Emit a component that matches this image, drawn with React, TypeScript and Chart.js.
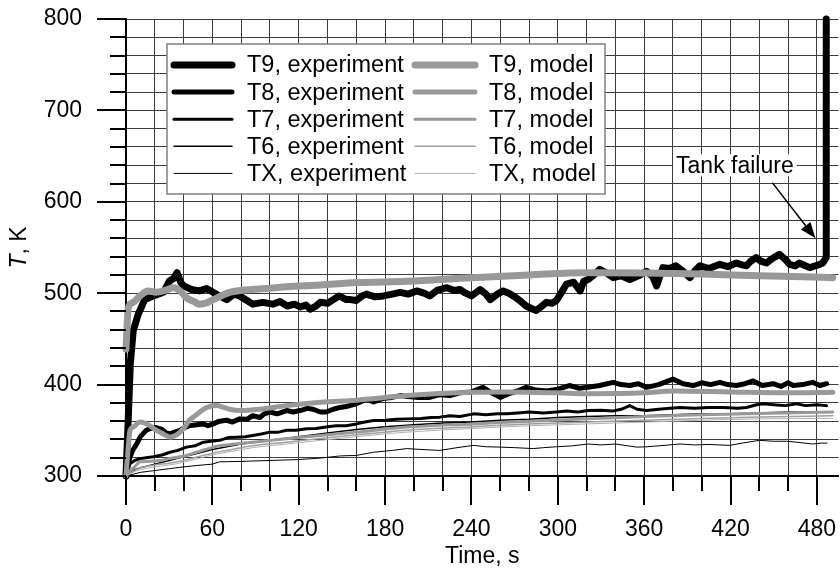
import React, { useEffect, useRef } from 'react';
import { Chart, registerables } from 'chart.js';
Chart.register(...registerables);

const FONT = '"Liberation Sans", Arial, Helvetica, sans-serif';

// ---- axis settings ----
const xMin = 0;
const xMax = 495;
const yMin = 300;
const yMax = 800;
const xMajorStep = 60;
const yMajorStep = 100;
const gridStep = 20;

// ---- labels ----
const expLabels = ['T9, experiment', 'T8, experiment', 'T7, experiment', 'T6, experiment', 'TX, experiment'];
const modelLabels = ['T9, model', 'T8, model', 'T7, model', 'T6, model', 'TX, model'];
const xTitle = 'Time, s';
const annotationText = 'Tank failure';
// annotation anchor values (time, K)
const annTextAt = [423, 640];
const annArrowFrom = [449, 621];
const annArrowTo = [479, 560];

// ---- T9 experiment ----
const t9ExpTime = [0, 1.5, 3, 5, 8.5, 13, 19, 26, 30, 33, 35.5, 38, 40, 45.5, 51, 56, 60.5, 65, 70, 75, 79, 84, 88, 95, 102, 107, 112, 117, 121, 125, 128, 132, 135, 140, 144, 148, 153, 156, 160, 164, 167, 173, 179, 185, 190.5, 196, 202, 207, 211, 216, 223, 228, 232, 236, 240, 246, 250, 253, 258, 262, 266, 271, 275, 278, 282, 285, 289, 292, 296, 299, 303, 306, 311, 315.5, 318, 321, 325, 329, 334, 338.5, 344, 350, 356, 361.7, 366, 368.6, 373, 378, 382, 387, 391.8, 395, 398.7, 405, 412.6, 418, 424, 428, 431, 434, 438, 441, 445, 449, 454, 458, 461, 465, 468, 472, 475, 479, 482, 484, 486.5, 486.5];
const t9ExpTemp = [300, 360, 423, 459, 477, 493, 497, 501, 513, 516, 522.5, 512, 508, 504, 502.5, 505, 501, 497, 493, 499, 497, 492, 488, 490, 488, 491, 486, 488, 485, 487, 482.5, 486, 490, 489, 493, 497, 493, 493, 492, 497, 499, 496, 497, 499, 501, 499, 502.5, 500, 497, 503, 506, 503, 504, 500, 497, 504, 499, 493, 499, 502.5, 500, 495, 490, 486, 483, 481, 486, 490, 489, 492, 502, 510, 512, 502.5, 513, 515, 520, 526, 522, 517, 519, 515, 519, 524, 518, 508, 528, 527, 530, 524, 517, 524, 530, 527, 531.6, 529, 533, 531, 530, 535, 539, 535, 533, 538, 542.5, 537, 531.6, 530, 533, 530, 528, 530, 531.6, 533, 539, 800];

// ---- T8 experiment ----
const t8ExpTime = [0, 1.5, 2.8, 5, 7.4, 10, 14, 17, 21, 25, 28, 30.5, 34, 37.5, 41, 44, 49, 53.7, 57, 60.6, 65, 70, 74, 79, 84, 88, 93, 96, 100, 105, 111.6, 116, 121, 126, 130, 135, 139, 144, 148.6, 153, 160, 167, 172, 179, 185, 190.5, 196, 203, 211, 218, 225, 232, 240, 248, 254, 260, 266, 272, 278, 285, 292, 300, 308, 315, 321, 329, 338.5, 344, 350, 356, 361.7, 370, 380, 387, 394, 400, 406, 412.6, 418, 424, 430, 435.7, 442, 449.6, 455, 460, 463.5, 470, 477, 482, 486.7];
const t8ExpTemp = [300, 312, 321, 329, 335, 343, 350, 352, 353, 351, 347, 346, 348, 350, 353, 355, 356, 357, 355, 357, 360, 361, 359, 362.5, 362, 366, 364, 368, 370, 368, 371.6, 370, 371.6, 374, 373, 370, 370, 373, 375, 376, 379, 384, 381, 385, 386, 388, 387, 386, 386, 389, 388, 391, 392, 397, 391, 386, 390, 393, 397, 394, 393, 395, 399, 396, 397, 399, 402.5, 400, 399, 401, 397, 400, 406, 401, 399, 402, 400, 402.5, 400, 399, 401, 404, 399, 401, 398, 402, 399, 400, 402.5, 399, 401];

// ---- T7 experiment ----
const t7ExpTime = [0, 2.8, 6, 9.7, 14, 19, 25, 30.5, 36, 42, 48, 53.7, 59, 65, 71, 77, 83, 88, 94, 100, 106, 111.6, 118, 125.5, 132, 139, 146, 153, 160, 166, 172, 180, 188, 195, 205, 212, 218, 225, 232, 241.5, 250, 258, 264.6, 272, 280, 290, 299, 306, 314, 321, 330, 338, 344, 350, 355, 361.7, 370, 378, 385, 395, 405, 415, 425, 431, 438, 443, 450, 458, 466, 472, 480, 486.7];
const t7ExpTemp = [300, 313.5, 317, 319, 320, 321, 323, 326, 328, 331.6, 333, 337, 338, 339, 342, 342.5, 343, 344.4, 346, 348, 348, 350, 350, 351.6, 352, 353.5, 355, 355, 357, 359, 360.7, 361, 362, 362.5, 363, 364, 364.4, 366, 365, 368, 367, 368, 368, 369, 370, 369, 370, 371, 370, 371.6, 372, 371, 373, 377, 373, 371.6, 373, 374, 375, 374, 375, 375, 374, 375, 378, 379, 378, 377, 379, 377, 378, 377];

// ---- T6 experiment ----
const t6ExpTime = [0, 5, 10, 20, 30, 40, 50, 60, 70, 80, 90, 100, 120, 140, 160, 180, 200, 220, 240, 260, 280, 300, 320, 340, 360, 380, 400, 420, 440, 460, 486];
const t6ExpTemp = [300, 306, 309, 313, 317, 321, 325, 329, 332, 335, 337, 339, 343, 347, 351, 354, 356, 358, 359, 361, 362, 364, 365, 366, 366, 367, 368, 368, 369, 370, 370];

// ---- TX experiment ----
const txExpTime = [0, 5, 10, 20, 30, 40, 50, 60, 65, 80, 100, 120, 135, 149, 160, 172, 185, 195, 205, 218, 230, 241.5, 250, 260, 270, 283, 290, 299, 310, 321, 330, 340, 354.7, 362, 370, 385, 395, 405, 419.5, 428, 440, 450, 459, 466, 477, 483, 487];
const txExpTemp = [300, 302, 304, 306, 308, 310, 311.6, 313, 315.5, 316, 317, 318, 319.6, 322, 322.5, 326, 328, 330, 329, 328, 331, 333.5, 332, 331.6, 331, 330, 331, 332, 333, 335, 334, 335, 331.6, 332, 333, 335, 334, 334.5, 333.5, 336, 339, 338, 338, 337, 335, 336, 336];

// ---- models ----
const t9ModelTime = [0, 1.6, 5, 9.7, 15.5, 21, 27, 33, 38, 42, 47, 51, 55, 60.6, 66, 72, 80, 88, 100, 111.6, 135, 160, 195, 240, 280, 321, 360, 400, 440, 470, 491];
const t9ModelTemp = [439, 484, 490, 497, 502.5, 501, 503, 506, 502, 495, 491, 488, 489, 493, 497, 501, 503, 504, 505.5, 507, 509, 511.6, 513, 517, 520, 522.5, 522, 521, 519, 518, 517];

const t8ModelTime = [0, 1.5, 2.8, 5, 9.7, 13, 16.7, 20, 23.6, 27, 30.5, 34, 37.5, 41, 44, 49, 53.7, 58, 63, 68, 72, 79, 93, 111.6, 135, 160, 195, 240, 264, 300, 321, 360, 380, 420, 460, 491];
const t8ModelTemp = [300, 330, 350, 353.5, 359, 358, 355, 351, 348, 345, 342.5, 344, 348, 354, 361, 367, 373, 376, 377, 375, 373, 371.6, 373, 377, 380.7, 383, 388, 391.6, 392, 391, 390, 391, 393, 392, 391, 391.6];

const t7ModelTime = [0, 3, 6, 9.7, 15, 23.6, 30, 37.5, 43, 49, 55, 60.6, 70, 88, 111.6, 135, 160, 195, 241.5, 280, 321, 360, 400, 440, 491];
const t7ModelTemp = [300, 306, 310, 315.5, 316, 317, 319, 321, 323, 326, 329, 331.6, 334, 337, 340.7, 344.4, 348, 353.5, 357, 360, 362.5, 365, 367, 368.5, 370];

const t6ModelTime = [0, 5, 10, 20, 30, 40, 50, 60, 70, 88, 111.6, 135, 160, 195, 241.5, 280, 321, 360, 400, 440, 491];
const t6ModelTemp = [300, 305, 309, 312, 314, 317, 321, 325, 328, 333, 337, 341, 345, 350, 354, 357, 359, 361, 363, 364.5, 366];

const txModelTime = [0, 5, 10, 20, 30, 40, 50, 60, 70, 88, 111.6, 135, 160, 195, 241.5, 280, 321, 360, 400, 440, 491];
const txModelTemp = [300, 304, 307, 310, 312, 315, 319, 323, 326, 331, 335, 339, 343, 348, 352, 355, 357, 359, 361, 362.5, 363];

const expTimes = [t9ExpTime, t8ExpTime, t7ExpTime, t6ExpTime, txExpTime];
const expTemps = [t9ExpTemp, t8ExpTemp, t7ExpTemp, t6ExpTemp, txExpTemp];
const modelTimes = [t9ModelTime, t8ModelTime, t7ModelTime, t6ModelTime, txModelTime];
const modelTemps = [t9ModelTemp, t8ModelTemp, t7ModelTemp, t6ModelTemp, txModelTemp];

const lineWidths = [7, 5, 3, 1.5, 1];
const expColors = ['#000000', '#000000', '#000000', '#000000', '#000000'];
const modelColors = ['#999999', '#999999', '#999999', '#a0a0a0', '#b0b0b0'];

function toPoints(ts: number[], vs: number[]) {
  return ts.map((t, i) => ({ x: t, y: vs[i] }));
}

const tickMarksPlugin = {
  id: 'tickMarks',
  afterDraw(chart: any) {
    const { ctx, chartArea, scales } = chart;
    const { left, bottom } = chartArea;
    ctx.save();
    ctx.strokeStyle = '#000';
    ctx.lineWidth = 2;
    ctx.beginPath();
    for (let v = yMin; v <= yMax; v += gridStep) {
      const py = Math.round(scales.y.getPixelForValue(v));
      const len = v % yMajorStep === 0 ? 29 : 16;
      ctx.moveTo(left - len, py);
      ctx.lineTo(left, py);
    }
    for (let v = xMin; v <= xMax; v += gridStep) {
      const px = Math.round(scales.x.getPixelForValue(v));
      const len = v % xMajorStep === 0 ? 29 : 15;
      ctx.moveTo(px, bottom);
      ctx.lineTo(px, bottom + len);
    }
    ctx.stroke();

    // axis titles
    ctx.fillStyle = '#000';
    ctx.textBaseline = 'middle';
    const midY = (chartArea.top + chartArea.bottom) / 2;
    ctx.save();
    ctx.translate(20, midY);
    ctx.rotate(-Math.PI / 2);
    ctx.font = `italic 23px ${FONT}`;
    const tW = ctx.measureText('T').width;
    ctx.font = `23px ${FONT}`;
    const rW = ctx.measureText(', K').width;
    const start = -(tW + rW) / 2;
    ctx.textAlign = 'left';
    ctx.font = `italic 23px ${FONT}`;
    ctx.fillText('T', start, 0);
    ctx.font = `23px ${FONT}`;
    ctx.fillText(', K', start + tW, 0);
    ctx.restore();

    ctx.font = `23px ${FONT}`;
    ctx.textAlign = 'center';
    ctx.fillText(xTitle, (chartArea.left + chartArea.right) / 2, 557);
    ctx.restore();
  },
};

const legendPlugin = {
  id: 'customLegend',
  afterDraw(chart: any) {
    const { ctx } = chart;
    const ds = chart.data.datasets;
    ctx.save();
    const bx = 167, by = 44, bw = 438, bh = 150;
    ctx.fillStyle = '#fff';
    ctx.fillRect(bx, by, bw, bh);
    ctx.strokeStyle = '#808080';
    ctx.lineWidth = 1.5;
    ctx.strokeRect(bx, by, bw, bh);
    ctx.font = `23.5px ${FONT}`;
    ctx.textBaseline = 'middle';
    ctx.textAlign = 'left';
    ctx.lineCap = 'round';
    const cols = [
      { x1: 174, x2: 232, tx: 247, idx: [0, 1, 2, 3, 4] },
      { x1: 415, x2: 475, tx: 489, idx: [5, 6, 7, 8, 9] },
    ];
    cols.forEach((c) => {
      c.idx.forEach((di, r) => {
        const d = ds[di];
        const yy = 65 + r * 27.1;
        ctx.strokeStyle = d.borderColor;
        ctx.lineWidth = d.borderWidth;
        ctx.beginPath();
        ctx.moveTo(c.x1, yy);
        ctx.lineTo(c.x2, yy);
        ctx.stroke();
        ctx.fillStyle = '#000';
        ctx.fillText(d.label, c.tx, yy + 1);
      });
    });
    ctx.restore();
  },
};

const annotationPlugin = {
  id: 'tankFailure',
  afterDatasetsDraw(chart: any) {
    const { ctx, scales } = chart;
    const sx = scales.x, sy = scales.y;
    ctx.save();
    ctx.font = `23px ${FONT}`;
    const tx = sx.getPixelForValue(annTextAt[0]);
    const ty = sy.getPixelForValue(annTextAt[1]);
    const w = ctx.measureText(annotationText).width;
    ctx.fillStyle = '#fff';
    ctx.fillRect(tx - w / 2 - 3, ty - 11, w + 6, 22);
    ctx.fillStyle = '#000';
    ctx.textAlign = 'center';
    ctx.textBaseline = 'middle';
    ctx.fillText(annotationText, tx, ty + 1);
    const x1 = sx.getPixelForValue(annArrowFrom[0]);
    const y1 = sy.getPixelForValue(annArrowFrom[1]);
    const x2 = sx.getPixelForValue(annArrowTo[0]);
    const y2 = sy.getPixelForValue(annArrowTo[1]);
    const ang = Math.atan2(y2 - y1, x2 - x1);
    const hl = 16, hw = 6;
    const bxp = x2 - hl * Math.cos(ang), byp = y2 - hl * Math.sin(ang);
    ctx.strokeStyle = '#000';
    ctx.lineWidth = 1.5;
    ctx.beginPath();
    ctx.moveTo(x1, y1);
    ctx.lineTo(bxp, byp);
    ctx.stroke();
    ctx.beginPath();
    ctx.moveTo(x2, y2);
    ctx.lineTo(bxp + hw * Math.sin(ang), byp - hw * Math.cos(ang));
    ctx.lineTo(bxp - hw * Math.sin(ang), byp + hw * Math.cos(ang));
    ctx.closePath();
    ctx.fillStyle = '#000';
    ctx.fill();
    ctx.restore();
  },
};

export default function App() {
  const ref = useRef<HTMLCanvasElement>(null);
  useEffect(() => {
    document.body.style.margin = '0';
    const canvas = ref.current!;
    const datasets: any[] = [];
    for (let i = 0; i < 5; i++) {
      datasets.push({
        label: expLabels[i],
        data: toPoints(expTimes[i], expTemps[i]),
        borderColor: expColors[i],
        borderWidth: lineWidths[i],
        pointRadius: 0,
        pointHitRadius: 0,
        pointHoverRadius: 0,
        pointBorderWidth: 0,
        borderJoinStyle: 'round',
        borderCapStyle: 'round',
        tension: 0,
        fill: false,
        order: 2 + i,
        clip: false,
      });
    }
    for (let i = 0; i < 5; i++) {
      datasets.push({
        label: modelLabels[i],
        data: toPoints(modelTimes[i], modelTemps[i]),
        borderColor: modelColors[i],
        borderWidth: lineWidths[i],
        pointRadius: 0,
        pointHitRadius: 0,
        pointHoverRadius: 0,
        pointBorderWidth: 0,
        borderJoinStyle: 'round',
        borderCapStyle: 'round',
        tension: 0.3,
        cubicInterpolationMode: 'monotone',
        fill: false,
        order: 0,
        clip: false,
      });
    }
    const gridColor = '#3c3c3c';
    const chart = new Chart(canvas, {
      type: 'line',
      data: { datasets },
      options: {
        responsive: false,
        animation: false,
        devicePixelRatio: 1,
        layout: { autoPadding: false, padding: { top: 19, right: 1.5, left: 0, bottom: 0 } },
        plugins: { legend: { display: false }, tooltip: { enabled: false } },
        scales: {
          x: {
            type: 'linear',
            min: xMin,
            max: xMax,
            afterFit: (s: any) => { s.height = 92; },
            grid: { color: gridColor, lineWidth: 1, drawTicks: true, tickLength: 40, tickColor: 'rgba(0,0,0,0)' },
            border: { display: true, color: '#000', width: 2 },
            ticks: {
              stepSize: gridStep,
              includeBounds: false,
              autoSkip: false,
              maxRotation: 0,
              padding: 0,
              color: '#000',
              font: { family: FONT, size: 23 },
              callback: (v: any) => (Number(v) % xMajorStep === 0 ? String(v) : ''),
            },
          },
          y: {
            type: 'linear',
            min: yMin,
            max: yMax,
            afterFit: (s: any) => { s.width = 126; },
            grid: { color: gridColor, lineWidth: 1, drawTicks: true, tickLength: 44, tickColor: 'rgba(0,0,0,0)' },
            border: { display: true, color: '#000', width: 2 },
            ticks: {
              stepSize: gridStep,
              autoSkip: false,
              padding: 0,
              color: '#000',
              font: { family: FONT, size: 23 },
              callback: (v: any) => (Number(v) % yMajorStep === 0 ? String(v) : ''),
            },
          },
        },
      } as any,
      plugins: [annotationPlugin, tickMarksPlugin, legendPlugin],
    });
    return () => chart.destroy();
  }, []);
  return (
    <div style={{ width: 840, height: 568 }}>
      <canvas ref={ref} width={840} height={568} style={{ display: 'block' }} />
    </div>
  );
}
